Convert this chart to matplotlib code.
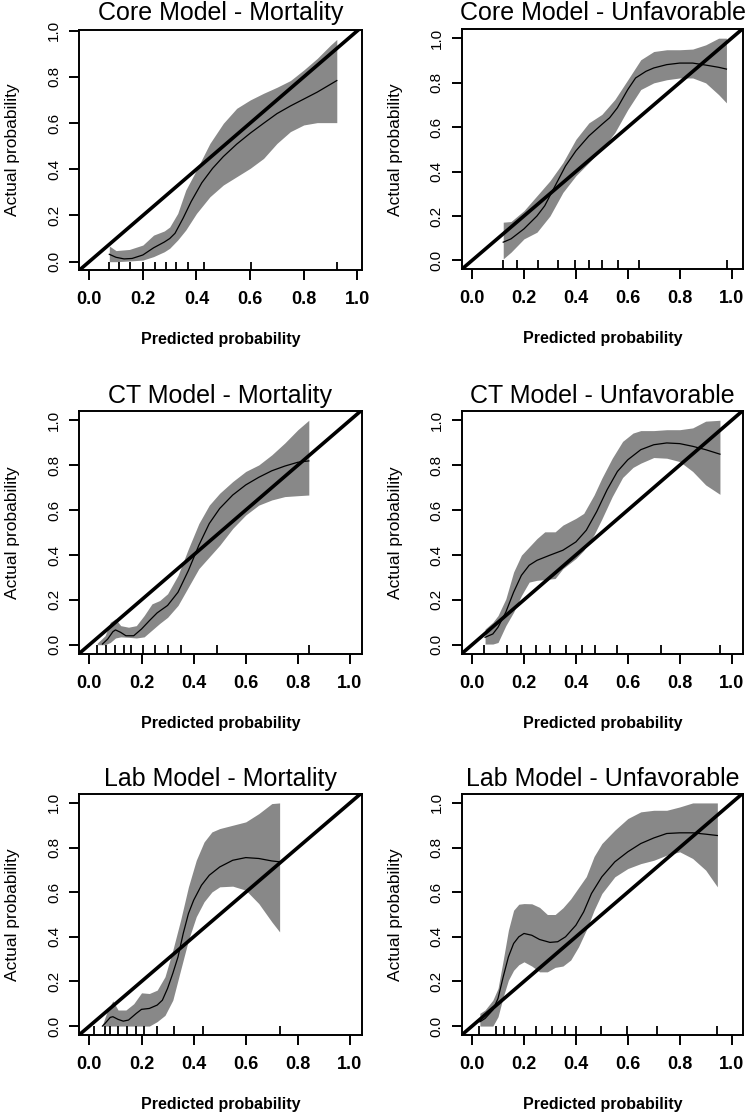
import matplotlib
matplotlib.use("Agg")
import matplotlib.pyplot as plt
import numpy as np

plt.rcParams['font.family'] = ['Liberation Sans', 'DejaVu Sans']

# ---------------- data ----------------
titles = ["Core Model - Mortality", "Core Model - Unfavorable",
          "CT Model - Mortality", "CT Model - Unfavorable",
          "Lab Model - Mortality", "Lab Model - Unfavorable"]
xlabel_text = "Predicted probability"
ylabel_text = "Actual probability"
tick_values = [0.0, 0.2, 0.4, 0.6, 0.8, 1.0]
tick_labels = ["0.0", "0.2", "0.4", "0.6", "0.8", "1.0"]

# Core Model - Mortality
core_mort_x = [0.075, 0.10, 0.13, 0.16, 0.20, 0.24, 0.28, 0.30, 0.32, 0.35, 0.38, 0.42, 0.46, 0.50,
               0.55, 0.60, 0.65, 0.70, 0.75, 0.80, 0.85, 0.923]
core_mort_y = [0.032, 0.019, 0.012, 0.014, 0.029, 0.06, 0.085, 0.10, 0.123, 0.188, 0.26, 0.342, 0.404,
               0.455, 0.509, 0.556, 0.599, 0.641, 0.674, 0.704, 0.734, 0.784]
core_mort_bx = [0.075, 0.10, 0.15, 0.20, 0.24, 0.28, 0.30, 0.33, 0.36, 0.40, 0.45, 0.50, 0.55, 0.60,
                0.65, 0.70, 0.75, 0.80, 0.85, 0.90, 0.923]
core_mort_up = [0.068, 0.048, 0.053, 0.072, 0.115, 0.133, 0.15, 0.209, 0.31, 0.397, 0.512, 0.599, 0.664,
                0.70, 0.729, 0.755, 0.784, 0.83, 0.88, 0.938, 0.962]
core_mort_lo = [0.0, 0.0, 0.003, 0.007, 0.022, 0.043, 0.058, 0.094, 0.137, 0.209, 0.281, 0.332, 0.368,
                0.404, 0.447, 0.512, 0.563, 0.592, 0.602, 0.602, 0.602]
core_mort_rug = [0.075, 0.111, 0.152, 0.201, 0.246, 0.285, 0.323, 0.369, 0.429, 0.602, 0.923]

# Core Model - Unfavorable
core_unf_x = [0.12, 0.15, 0.20, 0.25, 0.28, 0.30, 0.33, 0.36, 0.40, 0.45, 0.50, 0.53, 0.56, 0.60, 0.63,
              0.67, 0.70, 0.75, 0.80, 0.85, 0.90, 0.95, 0.98]
core_unf_y = [0.082, 0.097, 0.142, 0.20, 0.246, 0.291, 0.358, 0.425, 0.493, 0.56, 0.612, 0.642, 0.687,
              0.769, 0.821, 0.851, 0.866, 0.881, 0.888, 0.888, 0.879, 0.869, 0.861]
core_unf_bx = [0.12, 0.15, 0.20, 0.25, 0.30, 0.35, 0.40, 0.45, 0.50, 0.55, 0.60, 0.65, 0.70, 0.75, 0.80,
               0.85, 0.90, 0.95, 0.98]
core_unf_up = [0.172, 0.175, 0.224, 0.291, 0.358, 0.44, 0.545, 0.619, 0.657, 0.724, 0.813, 0.903, 0.94,
               0.948, 0.948, 0.951, 0.97, 1.0, 1.0]
core_unf_lo = [0.007, 0.037, 0.097, 0.127, 0.20, 0.306, 0.381, 0.44, 0.50, 0.575, 0.679, 0.769, 0.799,
               0.813, 0.821, 0.821, 0.799, 0.746, 0.709]
core_unf_rug = [0.120, 0.174, 0.255, 0.330, 0.396, 0.451, 0.499, 0.561, 0.645, 0.981]

# CT Model - Mortality
ct_mort_x = [0.05, 0.07, 0.09, 0.10, 0.12, 0.14, 0.17, 0.20, 0.23, 0.26, 0.30, 0.34, 0.38, 0.42, 0.46,
             0.50, 0.55, 0.60, 0.65, 0.70, 0.75, 0.80, 0.842]
ct_mort_y = [0.003, 0.025, 0.058, 0.066, 0.055, 0.04, 0.04, 0.07, 0.107, 0.142, 0.175, 0.234, 0.331,
             0.443, 0.54, 0.607, 0.667, 0.712, 0.746, 0.775, 0.796, 0.813, 0.819]
ct_mort_bx = [0.03, 0.06, 0.08, 0.10, 0.12, 0.15, 0.18, 0.21, 0.24, 0.27, 0.30, 0.34, 0.38, 0.42, 0.46,
              0.50, 0.55, 0.60, 0.65, 0.70, 0.75, 0.80, 0.842]
ct_mort_up = [0.007, 0.04, 0.10, 0.115, 0.085, 0.078, 0.085, 0.13, 0.182, 0.197, 0.227, 0.309, 0.428,
              0.54, 0.622, 0.675, 0.727, 0.772, 0.801, 0.846, 0.899, 0.958, 1.0]
ct_mort_lo = [0.0, 0.0, 0.01, 0.03, 0.035, 0.033, 0.03, 0.035, 0.065, 0.095, 0.122, 0.175, 0.257, 0.339,
              0.391, 0.443, 0.518, 0.578, 0.622, 0.645, 0.66, 0.664, 0.667]
ct_mort_rug = [0.028, 0.064, 0.099, 0.131, 0.159, 0.205, 0.253, 0.300, 0.353, 0.491, 0.842]

# CT Model - Unfavorable
ct_unf_x = [0.05, 0.08, 0.10, 0.13, 0.16, 0.19, 0.22, 0.25, 0.30, 0.35, 0.40, 0.44, 0.48, 0.52, 0.56,
            0.60, 0.65, 0.70, 0.75, 0.80, 0.85, 0.90, 0.955]
ct_unf_y = [0.033, 0.048, 0.078, 0.145, 0.234, 0.309, 0.354, 0.376, 0.399, 0.421, 0.458, 0.51, 0.593,
            0.69, 0.772, 0.824, 0.869, 0.891, 0.899, 0.896, 0.884, 0.869, 0.849]
ct_unf_bx = [0.05, 0.08, 0.10, 0.13, 0.16, 0.19, 0.22, 0.25, 0.28, 0.32, 0.35, 0.40, 0.43, 0.47, 0.50,
             0.54, 0.58, 0.62, 0.65, 0.70, 0.75, 0.80, 0.85, 0.90, 0.955]
ct_unf_up = [0.07, 0.10, 0.13, 0.204, 0.324, 0.399, 0.436, 0.473, 0.503, 0.503, 0.533, 0.563, 0.585,
             0.667, 0.742, 0.831, 0.906, 0.943, 0.954, 0.954, 0.958, 0.958, 0.966, 0.996, 1.0]
ct_unf_lo = [0.003, 0.003, 0.01, 0.085, 0.145, 0.219, 0.279, 0.287, 0.29, 0.295, 0.339, 0.384, 0.42,
             0.49, 0.56, 0.66, 0.745, 0.79, 0.809, 0.834, 0.831, 0.816, 0.772, 0.712, 0.67]
ct_unf_rug = [0.047, 0.133, 0.188, 0.245, 0.301, 0.361, 0.424, 0.474, 0.557, 0.726, 0.955]

# Lab Model - Mortality
lab_mort_x = [0.05, 0.06, 0.08, 0.09, 0.11, 0.13, 0.15, 0.18, 0.20, 0.23, 0.26, 0.28, 0.30, 0.32, 0.34,
              0.36, 0.38, 0.40, 0.43, 0.46, 0.50, 0.55, 0.60, 0.65, 0.70, 0.73]
lab_mort_y = [0.0, 0.012, 0.039, 0.042, 0.03, 0.022, 0.027, 0.057, 0.075, 0.079, 0.094, 0.116, 0.169,
              0.236, 0.31, 0.415, 0.504, 0.564, 0.631, 0.676, 0.713, 0.743, 0.755, 0.751, 0.74, 0.736]
lab_mort_bx = [0.05, 0.07, 0.09, 0.11, 0.14, 0.17, 0.20, 0.23, 0.26, 0.29, 0.32, 0.35, 0.38, 0.41, 0.44,
               0.47, 0.50, 0.55, 0.60, 0.65, 0.70, 0.73]
lab_mort_up = [0.005, 0.072, 0.113, 0.072, 0.072, 0.10, 0.149, 0.146, 0.161, 0.221, 0.34, 0.475, 0.624,
               0.743, 0.825, 0.87, 0.885, 0.90, 0.915, 0.952, 0.997, 1.0]
lab_mort_lo = [0.0, 0.0, 0.0, 0.0, 0.0, 0.0, 0.0, 0.0, 0.02, 0.048, 0.116, 0.251, 0.385, 0.49, 0.557,
               0.601, 0.624, 0.627, 0.609, 0.549, 0.467, 0.422]
lab_mort_rug = [0.019, 0.058, 0.080, 0.110, 0.146, 0.177, 0.210, 0.259, 0.326, 0.435, 0.730]

# Lab Model - Unfavorable
lab_unf_x = [0.03, 0.05, 0.08, 0.10, 0.12, 0.14, 0.16, 0.18, 0.20, 0.23, 0.26, 0.30, 0.33, 0.36, 0.40,
             0.43, 0.46, 0.50, 0.55, 0.60, 0.65, 0.70, 0.75, 0.80, 0.85, 0.90, 0.945]
lab_unf_y = [0.019, 0.034, 0.072, 0.124, 0.221, 0.31, 0.37, 0.40, 0.415, 0.407, 0.388, 0.375, 0.378,
             0.40, 0.452, 0.512, 0.594, 0.669, 0.736, 0.781, 0.818, 0.843, 0.863, 0.866, 0.866, 0.86, 0.854]
lab_unf_bx = [0.03, 0.05, 0.08, 0.10, 0.12, 0.14, 0.16, 0.18, 0.20, 0.23, 0.26, 0.29, 0.32, 0.35, 0.38,
              0.41, 0.44, 0.47, 0.50, 0.55, 0.60, 0.65, 0.70, 0.75, 0.80, 0.85, 0.90, 0.945]
lab_unf_up = [0.057, 0.072, 0.116, 0.169, 0.296, 0.43, 0.519, 0.546, 0.549, 0.548, 0.532, 0.50, 0.50,
              0.53, 0.57, 0.62, 0.67, 0.76, 0.818, 0.878, 0.93, 0.96, 0.967, 0.967, 0.982, 1.0, 1.0, 1.0]
lab_unf_lo = [0.0, 0.0, 0.0, 0.042, 0.131, 0.206, 0.25, 0.275, 0.288, 0.269, 0.243, 0.243, 0.263, 0.269,
              0.296, 0.355, 0.43, 0.519, 0.594, 0.669, 0.706, 0.728, 0.743, 0.766, 0.781, 0.751, 0.699, 0.624]
lab_unf_rug = [0.028, 0.092, 0.123, 0.165, 0.247, 0.306, 0.357, 0.400, 0.498, 0.597, 0.712, 0.945]

panels = [
    (core_mort_x, core_mort_y, core_mort_bx, core_mort_up, core_mort_lo, core_mort_rug),
    (core_unf_x, core_unf_y, core_unf_bx, core_unf_up, core_unf_lo, core_unf_rug),
    (ct_mort_x, ct_mort_y, ct_mort_bx, ct_mort_up, ct_mort_lo, ct_mort_rug),
    (ct_unf_x, ct_unf_y, ct_unf_bx, ct_unf_up, ct_unf_lo, ct_unf_rug),
    (lab_mort_x, lab_mort_y, lab_mort_bx, lab_mort_up, lab_mort_lo, lab_mort_rug),
    (lab_unf_x, lab_unf_y, lab_unf_bx, lab_unf_up, lab_unf_lo, lab_unf_rug),
]

# ---------------- layout (pixel boxes) ----------------
W, H = 749, 1118
boxes = [(79, 30, 362, 270), (461.7, 29.3, 743.3, 269.3),
         (79, 411.3, 361.7, 653.7), (461.7, 411.3, 743.3, 653.7),
         (79, 794, 361.7, 1035), (461.7, 794, 743.3, 1035)]
xlims = [(-0.038, 1.017)] + [(-0.04, 1.045)] * 5
ylims = [(-0.036, 1.003)] + [(-0.04, 1.04)] * 5
title_pads = [7.2, 6.5, 5.8, 5.8, 5.8, 5.8]

fig = plt.figure(figsize=(W / 100, H / 100), dpi=100)
band_color = '#888888'

for i, (data, box) in enumerate(zip(panels, boxes)):
    cx, cy, bx, up, lo, rug = data
    l, t, r, b = box
    ax = fig.add_axes([l / W, 1 - b / H, (r - l) / W, (b - t) / H])
    ax.set_xlim(*xlims[i])
    ax.set_ylim(*ylims[i])
    ax.fill_between(bx, lo, up, color=band_color, linewidth=0, zorder=1)
    ax.plot(cx, cy, color='black', linewidth=0.9, zorder=3,
            solid_joinstyle='round')
    ax.axline((0, 0), slope=1, color='black', linewidth=2.6, zorder=4)
    ax.vlines(rug, ylims[i][0], 0.0, color='black', linewidth=1.3, zorder=2)

    for sp in ax.spines.values():
        sp.set_linewidth(1.4)
    ax.set_xticks(tick_values)
    ax.set_xticklabels(tick_labels, fontsize=13, fontweight='bold')
    ax.set_yticks(tick_values)
    ax.set_yticklabels(tick_labels, fontsize=11, rotation=90, va='center')
    ax.tick_params(axis='both', direction='out', length=7, width=1.4)
    ax.tick_params(axis='x', pad=8)
    ax.tick_params(axis='y', pad=6)

    wpx, hpx = r - l, b - t
    ax.set_title(titles[i], fontsize=18, pad=title_pads[i])
    ax.set_xlabel(xlabel_text, fontsize=11.5, fontweight='bold')
    ax.xaxis.set_label_coords(0.5, -62 / hpx)
    ax.set_ylabel(ylabel_text, fontsize=12.5)
    ax.yaxis.set_label_coords(-59 / wpx, 0.5)

fig.savefig("out.png", dpi=100)
